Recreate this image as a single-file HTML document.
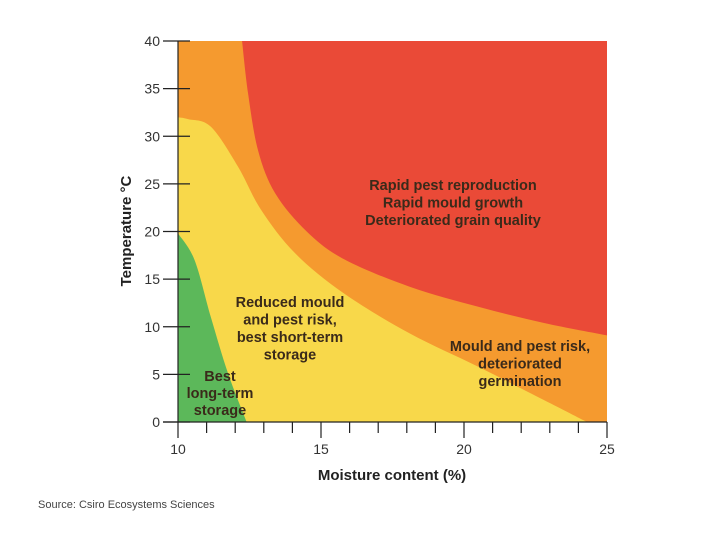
<!DOCTYPE html>
<html><head><meta charset="utf-8">
<style>
html,body{margin:0;padding:0;background:#fff;}
svg text{font-family:"Liberation Sans",Arial,sans-serif;}
</style></head>
<body>
<svg id="chart" width="721" height="530" viewBox="0 0 721 530" xmlns="http://www.w3.org/2000/svg">
<g id="zones"></g>
<g id="labels"></g>
<g id="axes"></g>
</svg>
<script>
// data: moisture (%) vs temperature (°C) zone boundaries
const xDomain = [10, 25];
const yDomain = [0, 40];
const xTicksMajor = [10, 15, 20, 25];
const xTicksMinor = [11,12,13,14,16,17,18,19,21,22,23,24];
const yTicks = [0,5,10,15,20,25,30,35,40];
const redBoundaryX = [12.24,12.45,12.8,13.4,14.5,15.8,18.1,20.5,22.8,25];
const redBoundaryY = [40,34.5,28.5,24,20,17.1,14.2,12.1,10.4,9.1];
const yellowBoundaryX = [10,10.35,11.15,12.1,12.9,14.1,15.8,18.1,20.5,22.8,24.3];
const yellowBoundaryY = [32,31.8,31,26.8,22.3,17.7,13.5,9.3,5.8,2.3,0];
const greenBoundaryX = [10,10.58,11.15,11.75,12.4];
const greenBoundaryY = [19.8,17,11,5.1,0];

const X0=178, X1=607, Y0=422, Y1=41;
const sx = v => X0 + (v - xDomain[0]) / (xDomain[1]-xDomain[0]) * (X1 - X0);
const sy = v => Y0 - (v - yDomain[0]) / (yDomain[1]-yDomain[0]) * (Y0 - Y1);
const NS = "http://www.w3.org/2000/svg";

function smooth(xs, ys){
  const p = xs.map((x,i)=>[sx(x), sy(ys[i])]);
  let d = "L"+p[0][0]+","+p[0][1];
  for(let i=0;i<p.length-1;i++){
    const a=p[Math.max(0,i-1)], b=p[i], c=p[i+1], e=p[Math.min(p.length-1,i+2)];
    const c1=[b[0]+(c[0]-a[0])/6, b[1]+(c[1]-a[1])/6];
    const c2=[c[0]-(e[0]-b[0])/6, c[1]-(e[1]-b[1])/6];
    d += " C"+c1[0]+","+c1[1]+" "+c2[0]+","+c2[1]+" "+c[0]+","+c[1];
  }
  return d;
}
const zones = document.getElementById('zones');
function addPath(d, fill, name){
  const p = document.createElementNS(NS,'path');
  p.setAttribute('d', d);
  p.setAttribute('fill', fill);
  
  
  zones.appendChild(p);
}
addPath(`M${X0},${Y1} L${X1},${Y1} L${X1},${Y0} L${X0},${Y0} Z`, '#f59a2f', 'zone-orange');
addPath(`M${X1},${Y1} ` + smooth(redBoundaryX, redBoundaryY) + ` Z`, '#ea4a37', 'zone-red');
addPath(`M${X0},${Y0} ` + smooth(yellowBoundaryX, yellowBoundaryY) + ` Z`, '#f8d84a', 'zone-yellow');
addPath(`M${X0},${Y0} ` + smooth(greenBoundaryX, greenBoundaryY) + ` Z`, '#5cb85a', 'zone-green');

const axes = document.getElementById('axes');
function line(x1,y1,x2,y2,name){
  const l=document.createElementNS(NS,'line');
  l.setAttribute('x1',x1);l.setAttribute('y1',y1);l.setAttribute('x2',x2);l.setAttribute('y2',y2);
  l.setAttribute('stroke','#222');l.setAttribute('stroke-width','1.2');
  
  
  axes.appendChild(l);
}
function text(x,y,s,size,anchor,name,weight,fill){
  const t=document.createElementNS(NS,'text');
  t.setAttribute('x',x);t.setAttribute('y',y);t.setAttribute('font-size',size);
  t.setAttribute('text-anchor',anchor);t.setAttribute('fill',fill||'#333');
  if(weight) t.setAttribute('font-weight',weight);
  t.textContent=s;
  
  
  return t;
}
line(X0,Y1,X0,Y0,'y-axis-line');
line(163,Y0,X1,Y0,'x-axis-line');
yTicks.forEach(v=>{
  line(163,sy(v),190,sy(v),'y-tick');
  axes.appendChild(text(160,sy(v)+5,String(v),14,'end','y-tick-label'));
});
xTicksMajor.forEach(v=>{
  line(sx(v),Y0,sx(v),Y0+16,'x-tick');
  axes.appendChild(text(sx(v),Y0+32,String(v),14,'middle','x-tick-label'));
});
xTicksMinor.forEach(v=>{ line(sx(v),Y0,sx(v),Y0+11,'x-minor-tick'); });
axes.appendChild(text(392,480,'Moisture content (%)',15,'middle','x-axis-title','bold','#222'));
const yt=text(0,0,'Temperature °C',15,'middle','y-axis-title','bold','#222');
yt.setAttribute('transform','translate(131,231) rotate(-90)');
axes.appendChild(yt);
axes.appendChild(text(38,508,'Source: Csiro Ecosystems Sciences',11,'start','source-note',null,'#444'));

const labels=document.getElementById('labels');
function block(lines,x,y0,dy,name){
  lines.forEach((s,i)=>labels.appendChild(text(x,y0+i*dy,s,14.5,'middle',name,'bold','#3a2a1a')));
}
block(['Rapid pest reproduction','Rapid mould growth','Deteriorated grain quality'],453,190,17.5,'label-red-zone');
block(['Reduced mould','and pest risk,','best short-term','storage'],290,307,17.5,'label-yellow-zone');
block(['Mould and pest risk,','deteriorated','germination'],520,351,17.5,'label-orange-zone');
block(['Best','long-term','storage'],220,381,17,'label-green-zone');
</script>
</body></html>
